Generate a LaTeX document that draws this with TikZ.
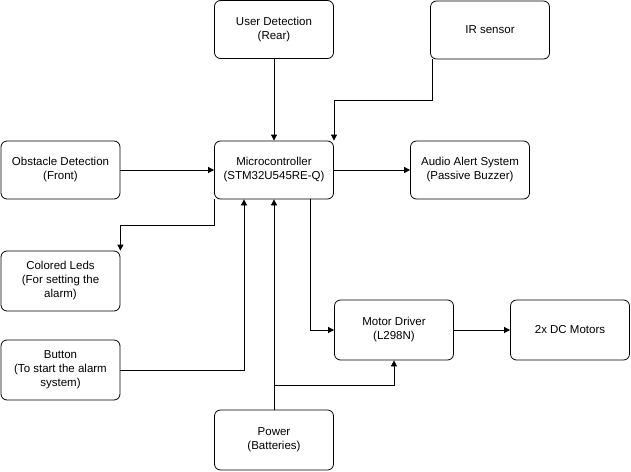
\documentclass[tikz,border=0pt]{standalone}
\usepackage{fontspec}
\setmainfont{Liberation Sans}
\usetikzlibrary{arrows.meta}
\begin{document}
\begin{tikzpicture}[x=1pt,y=-1pt,
  box/.style={draw,rounded corners=6pt,minimum width=119pt,minimum height=58pt,align=center,font=\fontsize{11.5}{14}\selectfont,line width=0.8pt},
  arr/.style={-{Triangle[length=6pt,width=6pt]},line width=0.8pt}]
\useasboundingbox (0,0) rectangle (631,471);
\node[box] (user) at (274,29.5) {User Detection\\(Rear)};
\node[box] (ir) at (490,30) {IR sensor};
\node[box] (obs) at (60.5,170) {Obstacle Detection\\(Front)};
\node[box] (mcu) at (274,170) {Microcontroller\\(STM32U545RE-Q)};
\node[box] (audio) at (470,170) {Audio Alert System\\(Passive Buzzer)};
\node[box,minimum height=60pt] (leds) at (60.5,281) {Colored Leds\\(For setting the\\alarm)};
\node[box,minimum height=60pt] (btn) at (60.5,370) {Button\\(To start the alarm\\system)};
\node[box,minimum height=60pt] (drv) at (394,330) {Motor Driver\\(L298N)};
\node[box,minimum height=60pt] (dc) at (570,330) {2x DC Motors};
\node[box,minimum height=60pt] (pwr) at (274,440) {Power\\(Batteries)};
\draw[arr] (user) -- (mcu);
\draw[arr] (ir.south west) ++(2,0) coordinate (a) -- (a |- 0,100) -| ([xshift=60pt]mcu.north);
\draw[arr] (obs) -- (mcu);
\draw[arr] (mcu) -- (audio);
\draw[arr] (mcu.south west) -- ++(0,26) -| (leds.north east);
\draw[arr] (btn.east) -| ([xshift=-30pt]mcu.south);
\draw[arr] ([xshift=36pt]mcu.south) |- (drv.west);
\draw[arr] (pwr) -- (mcu);
\draw[arr] (274,385) -| (drv.south);
\draw[arr] (drv) -- (dc);
\end{tikzpicture}
\end{document}
